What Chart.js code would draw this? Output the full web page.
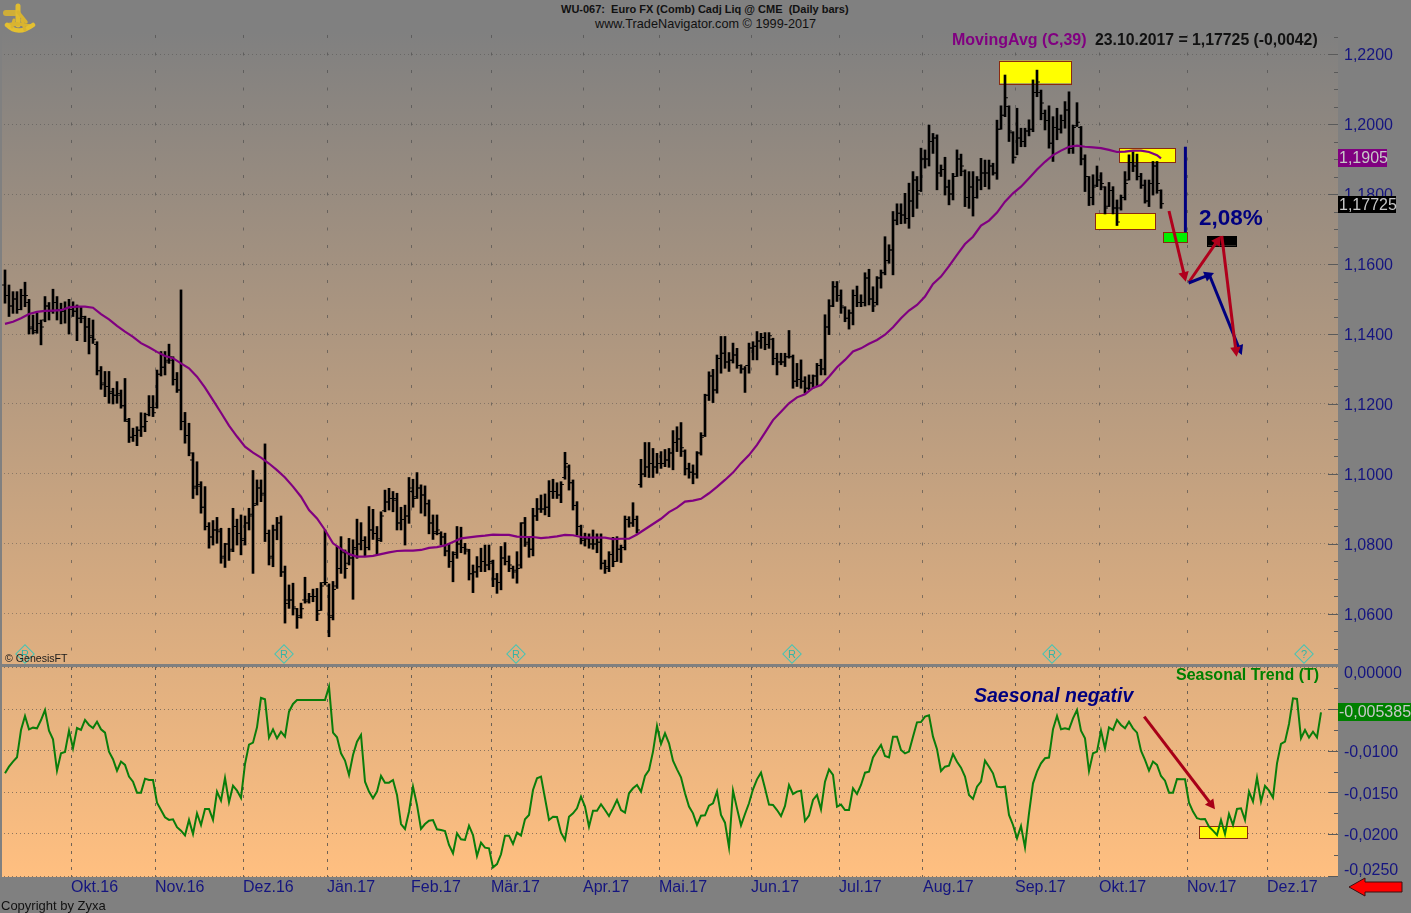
<!DOCTYPE html>
<html><head><meta charset="utf-8">
<script src="https://cdn.jsdelivr.net/npm/chart.js@4"></script>
<style>
html,body{margin:0;padding:0;background:#808080;overflow:hidden}
#stage{position:relative;width:1411px;height:913px;font-family:"Liberation Sans",Arial,sans-serif;overflow:hidden}
#bg{position:absolute;left:0;top:32px;width:1338px;height:845px;background:linear-gradient(180deg,#808080 0%,#ffbf80 100%)}
#edge{position:absolute;left:0;top:32px;width:2px;height:845px;background:#808080;z-index:3}
#split{position:absolute;left:0;top:664px;width:1338px;height:3px;background:#808080;z-index:3}
canvas{position:absolute;left:0;z-index:1}
#cTop{top:32px}#cLow{top:660px}
.t{position:absolute;white-space:nowrap;transform:translateY(-50%);z-index:4;line-height:1}
.box{position:absolute;z-index:4;color:#c8c8c8;font-size:16px;line-height:18px;padding-left:1px;box-sizing:border-box}
.dia{position:absolute;width:12px;height:12px;border:1px solid #45c4b4;transform:translate(-50%,-50%) rotate(45deg);z-index:2;top:654px}
.let{position:absolute;top:654px;transform:translate(-50%,-50%);font-size:11px;color:#35b5a5;z-index:2;line-height:1}
svg{position:absolute;z-index:4}
</style></head><body>
<div id="stage">
<div id="bg"></div>
<canvas id="cTop" width="1411" height="632"></canvas>
<canvas id="cLow" width="1411" height="253"></canvas>
<div id="edge"></div><div id="split"></div>

<svg style="left:0;top:0" width="42" height="38" viewBox="0 0 42 38">
<g fill="none" stroke="#d9b430" stroke-linecap="round">
<path d="M6 13 L15 13" stroke-width="6" stroke="#cfae38"/>
<path d="M18 6 L18 25" stroke-width="5" stroke="#e0bc30"/>
<path d="M18 12 L26 22" stroke-width="3.5"/>
<path d="M17 24 L7 25" stroke-width="4"/>
<path d="M18 24 L32 26" stroke-width="3"/>
<path d="M7 25 Q18 36 33 25" stroke-width="4.5" stroke="#e4c030"/>
<path d="M14 20 L12 27 M22 20 L25 30" stroke-width="3"/>
</g></svg>

<div class="t" style="left:561px;top:9px;font-size:11px;font-weight:bold;color:#111">WU-067:&nbsp; Euro FX (Comb) Cadj Liq @ CME&nbsp; (Daily bars)</div>
<div class="t" style="left:595px;top:24px;font-size:12.7px;color:#111">www.TradeNavigator.com © 1999-2017</div>
<div class="t" style="left:952px;top:40px;font-size:16px;font-weight:bold;color:#800080">MovingAvg (C,39)</div>
<div class="t" style="left:1095px;top:40px;font-size:15.8px;font-weight:bold;color:#111">23.10.2017 = 1,17725 (-0,0042)</div>
<div class="t" style="left:1199px;top:218px;font-size:22.5px;font-weight:bold;color:#00007f">2,08%</div>
<div class="t" style="left:5px;top:658px;font-size:10.6px;color:#1a1a1a">© GenesisFT</div>
<div class="t" style="left:1176px;top:675px;font-size:16px;font-weight:bold;color:#008000">Seasonal Trend (T)</div>
<div class="t" style="left:974px;top:696px;font-size:19.5px;font-weight:bold;font-style:italic;color:#00007f">Saesonal negativ</div>
<div class="t" style="left:1px;top:905px;font-size:13px;color:#111">Copyright by Zyxa</div>

<div class="box" style="left:1338px;top:149px;width:49px;height:18px;background:#800080">1,1905</div>
<div class="box" style="left:1338px;top:196px;width:58px;height:17px;background:#000">1,17725</div>
<div class="box" style="left:1338px;top:703px;width:73px;height:18px;background:#008000">-0,005385</div>

<div class="dia" style="left:25px"></div><div class="let" style="left:25px">R</div>
<div class="dia" style="left:284px"></div><div class="let" style="left:284px">R</div>
<div class="dia" style="left:516px"></div><div class="let" style="left:516px">R</div>
<div class="dia" style="left:792px"></div><div class="let" style="left:792px">R</div>
<div class="dia" style="left:1052px"></div><div class="let" style="left:1052px">R</div>
<div class="dia" style="left:1304px"></div><div class="let" style="left:1304px">?</div>

<svg style="left:1345px;top:874px" width="62" height="26" viewBox="0 0 62 26">
<polygon points="4,13 20,4 20,8 57,8 57,18 20,18 20,22" fill="#ff0000" stroke="#3a1010" stroke-width="1"/></svg>
</div>

<script>
const monthTicks = [16.5,37.5,59.5,80.5,101.5,121.5,144.5,163.5,186.5,208.5,229.5,252.5,273.5,295.5,315.5];
const monthLabels = ["Okt.16","Nov.16","Dez.16","Jän.17","Feb.17","Mär.17","Apr.17","Mai.17","Jun.17","Jul.17","Aug.17","Sep.17","Okt.17","Nov.17","Dez.17"];

const highs = [1.1583,1.1540,1.1521,1.1521,1.1528,1.1548,1.1499,1.1454,1.1459,1.1440,1.1507,1.1490,1.1528,1.1507,1.1488,1.1492,1.1499,1.1492,1.1483,1.1478,1.1451,1.1445,1.1440,1.1378,1.1307,1.1293,1.1293,1.1245,1.1264,1.1240,1.1273,1.1159,1.1131,1.1135,1.1175,1.1174,1.1224,1.1224,1.1297,1.1350,1.1350,1.1371,1.1335,1.1290,1.1526,1.1176,1.1145,1.1061,1.1035,1.0978,1.0964,1.0861,1.0867,1.0876,1.0845,1.0802,1.0845,1.0902,1.0871,1.0883,1.0880,1.0902,1.1010,1.0983,1.0983,1.1086,1.0840,1.0854,1.0876,1.0880,1.0737,1.0683,1.0688,1.0616,1.0631,1.0705,1.0659,1.0671,1.0673,1.0690,1.0840,1.0686,1.0693,1.0793,1.0821,1.0783,1.0816,1.0812,1.0871,1.0861,1.0821,1.0907,1.0899,1.0850,1.0892,1.0954,1.0959,1.0950,1.0945,1.0905,1.0911,1.0990,1.0985,1.1004,1.0969,1.0966,1.0926,1.0883,1.0883,1.0835,1.0831,1.0802,1.0778,1.0850,1.0848,1.0802,1.0785,1.0740,1.0764,1.0788,1.0797,1.0797,1.0754,1.0716,1.0793,1.0804,1.0766,1.0737,1.0778,1.0861,1.0876,1.0821,1.0902,1.0930,1.0940,1.0943,1.0981,1.0985,1.0975,1.0978,1.1062,1.1026,1.0983,1.0921,1.0854,1.0831,1.0829,1.0840,1.0829,1.0829,1.0754,1.0778,1.0819,1.0821,1.0797,1.0880,1.0878,1.0918,1.0880,1.1042,1.1090,1.1090,1.1073,1.1059,1.1064,1.1070,1.1073,1.1124,1.1135,1.1147,1.1069,1.1031,1.1026,1.1064,1.1118,1.1228,1.1292,1.1299,1.1340,1.1393,1.1393,1.1347,1.1374,1.1359,1.1312,1.1307,1.1374,1.1378,1.1407,1.1402,1.1404,1.1404,1.1388,1.1345,1.1345,1.1345,1.1410,1.1340,1.1316,1.1326,1.1278,1.1283,1.1283,1.1316,1.1328,1.1455,1.1498,1.1550,1.1550,1.1526,1.1478,1.1469,1.1526,1.1537,1.1512,1.1575,1.1585,1.1535,1.1564,1.1583,1.1678,1.1655,1.1750,1.1772,1.1772,1.1802,1.1831,1.1864,1.1850,1.1931,1.1926,1.1997,1.1973,1.1969,1.1883,1.1905,1.1840,1.1859,1.1926,1.1914,1.1869,1.1864,1.1864,1.1850,1.1902,1.1897,1.1897,1.1888,1.2011,1.2052,1.2140,1.2052,1.1978,1.2045,1.1988,1.1988,1.2012,1.2126,1.2154,1.2097,1.2040,1.2052,1.2021,1.2045,1.2026,1.2064,1.2092,1.1997,1.2061,1.1993,1.1912,1.1850,1.1855,1.1880,1.1861,1.1821,1.1833,1.1821,1.1783,1.1797,1.1864,1.1912,1.1921,1.1914,1.1859,1.1840,1.1840,1.1893,1.1893,1.1812];
const lows = [1.1488,1.1450,1.1459,1.1459,1.1469,1.1478,1.1400,1.1400,1.1402,1.1369,1.1435,1.1440,1.1459,1.1440,1.1429,1.1431,1.1400,1.1450,1.1381,1.1432,1.1378,1.1343,1.1373,1.1283,1.1242,1.1221,1.1202,1.1200,1.1202,1.1188,1.1150,1.1090,1.1093,1.1081,1.1107,1.1121,1.1166,1.1164,1.1188,1.1280,1.1283,1.1316,1.1254,1.1233,1.1126,1.1088,1.1052,1.0930,1.0940,1.0888,1.0840,1.0788,1.0797,1.0802,1.0745,1.0733,1.0753,1.0778,1.0797,1.0769,1.0797,1.0840,1.0716,1.0911,1.0921,1.0807,1.0740,1.0735,1.0812,1.0707,1.0574,1.0616,1.0597,1.0559,1.0588,1.0631,1.0631,1.0635,1.0581,1.0610,1.0683,1.0535,1.0583,1.0673,1.0716,1.0702,1.0740,1.0642,1.0759,1.0783,1.0766,1.0783,1.0813,1.0771,1.0807,1.0892,1.0897,1.0892,1.0840,1.0840,1.0797,1.0859,1.0905,1.0930,1.0888,1.0880,1.0829,1.0813,1.0826,1.0797,1.0766,1.0733,1.0692,1.0759,1.0775,1.0771,1.0697,1.0661,1.0705,1.0721,1.0721,1.0726,1.0678,1.0659,1.0669,1.0740,1.0721,1.0702,1.0688,1.0731,1.0793,1.0762,1.0766,1.0867,1.0890,1.0883,1.0878,1.0930,1.0930,1.0918,1.0985,1.0954,1.0897,1.0826,1.0800,1.0794,1.0788,1.0785,1.0775,1.0728,1.0716,1.0721,1.0735,1.0750,1.0747,1.0783,1.0848,1.0850,1.0831,1.0962,1.0992,1.0990,1.0990,1.1002,1.1016,1.1021,1.1019,1.1012,1.1064,1.1050,1.0997,1.0988,1.0972,1.0988,1.1054,1.1107,1.1210,1.1204,1.1231,1.1288,1.1302,1.1293,1.1317,1.1302,1.1288,1.1233,1.1288,1.1326,1.1326,1.1359,1.1355,1.1359,1.1312,1.1283,1.1312,1.1307,1.1331,1.1245,1.1250,1.1245,1.1231,1.1240,1.1245,1.1250,1.1283,1.1283,1.1398,1.1478,1.1493,1.1459,1.1435,1.1414,1.1426,1.1478,1.1478,1.1480,1.1483,1.1464,1.1483,1.1531,1.1569,1.1602,1.1569,1.1712,1.1715,1.1716,1.1702,1.1735,1.1759,1.1807,1.1874,1.1880,1.1916,1.1812,1.1850,1.1797,1.1769,1.1783,1.1850,1.1852,1.1764,1.1759,1.1737,1.1788,1.1812,1.1821,1.1814,1.1854,1.1842,1.1985,1.2021,1.1950,1.1888,1.1912,1.1935,1.1935,1.1966,1.1978,1.2078,1.2012,1.1983,1.1931,1.1893,1.1955,1.1974,1.1988,1.1916,1.1916,1.1993,1.1883,1.1807,1.1767,1.1769,1.1821,1.1812,1.1743,1.1764,1.1743,1.1710,1.1754,1.1783,1.1840,1.1864,1.1840,1.1816,1.1774,1.1764,1.1797,1.1802,1.1759];
const closes = [1.1510,1.1480,1.1500,1.1470,1.1510,1.1510,1.1415,1.1405,1.1430,1.1420,1.1480,1.1465,1.1490,1.1470,1.1465,1.1475,1.1470,1.1465,1.1445,1.1450,1.1420,1.1390,1.1385,1.1295,1.1255,1.1250,1.1230,1.1225,1.1230,1.1195,1.1155,1.1105,1.1110,1.1125,1.1135,1.1150,1.1190,1.1175,1.1285,1.1305,1.1320,1.1335,1.1270,1.1240,1.1150,1.1110,1.1060,1.0960,1.0970,1.0905,1.0850,1.0820,1.0840,1.0840,1.0760,1.0800,1.0780,1.0850,1.0830,1.0810,1.0860,1.0880,1.0910,1.0960,1.0940,1.0830,1.0760,1.0840,1.0860,1.0720,1.0630,1.0640,1.0620,1.0590,1.0615,1.0635,1.0650,1.0650,1.0600,1.0680,1.0690,1.0590,1.0670,1.0730,1.0780,1.0730,1.0760,1.0790,1.0800,1.0810,1.0790,1.0840,1.0830,1.0810,1.0880,1.0920,1.0930,1.0930,1.0860,1.0870,1.0880,1.0960,1.0930,1.0960,1.0940,1.0915,1.0860,1.0830,1.0840,1.0820,1.0780,1.0750,1.0770,1.0800,1.0790,1.0785,1.0715,1.0720,1.0735,1.0750,1.0740,1.0750,1.0700,1.0690,1.0760,1.0750,1.0740,1.0720,1.0730,1.0860,1.0800,1.0785,1.0880,1.0900,1.0900,1.0905,1.0950,1.0950,1.0940,1.0970,1.1030,1.0975,1.0910,1.0850,1.0810,1.0815,1.0800,1.0800,1.0805,1.0745,1.0730,1.0770,1.0750,1.0785,1.0790,1.0870,1.0860,1.0870,1.0840,1.1000,1.1020,1.1030,1.1020,1.1030,1.1030,1.1040,1.1060,1.1090,1.1100,1.1075,1.1015,1.1005,1.1000,1.1060,1.1105,1.1225,1.1280,1.1240,1.1330,1.1345,1.1320,1.1325,1.1340,1.1310,1.1300,1.1310,1.1360,1.1365,1.1380,1.1390,1.1370,1.1395,1.1330,1.1320,1.1320,1.1335,1.1335,1.1265,1.1270,1.1265,1.1245,1.1260,1.1280,1.1310,1.1300,1.1420,1.1480,1.1535,1.1510,1.1480,1.1445,1.1460,1.1510,1.1490,1.1490,1.1560,1.1500,1.1480,1.1560,1.1575,1.1610,1.1640,1.1725,1.1745,1.1740,1.1730,1.1780,1.1840,1.1800,1.1900,1.1900,1.1950,1.1960,1.1860,1.1870,1.1820,1.1800,1.1850,1.1900,1.1880,1.1790,1.1820,1.1790,1.1840,1.1860,1.1860,1.1880,1.1860,1.1985,1.2025,1.2075,1.1980,1.1905,1.1960,1.1950,1.1980,1.1985,1.2090,1.2120,1.2060,1.2010,1.1945,1.1990,1.1985,1.2010,1.2040,1.1930,1.1990,1.2005,1.1900,1.1850,1.1790,1.1820,1.1840,1.1830,1.1760,1.1810,1.1760,1.1720,1.1790,1.1830,1.1890,1.1880,1.1850,1.1825,1.1780,1.1830,1.1880,1.1830,1.17725];
const opens = [1.1540,1.1510,1.1480,1.1500,1.1470,1.1510,1.1490,1.1420,1.1410,1.1430,1.1440,1.1480,1.1465,1.1490,1.1470,1.1465,1.1475,1.1470,1.1465,1.1445,1.1445,1.1420,1.1395,1.1370,1.1295,1.1260,1.1250,1.1235,1.1225,1.1225,1.1195,1.1150,1.1105,1.1110,1.1125,1.1135,1.1170,1.1190,1.1190,1.1285,1.1305,1.1325,1.1325,1.1270,1.1240,1.1150,1.1110,1.1040,1.0965,1.0965,1.0905,1.0850,1.0820,1.0840,1.0835,1.0765,1.0800,1.0785,1.0850,1.0830,1.0815,1.0860,1.0885,1.0915,1.0960,1.0945,1.0830,1.0765,1.0840,1.0860,1.0720,1.0640,1.0640,1.0615,1.0595,1.0640,1.0640,1.0650,1.0650,1.0610,1.0690,1.0680,1.0595,1.0680,1.0730,1.0775,1.0745,1.0760,1.0785,1.0800,1.0810,1.0790,1.0840,1.0830,1.0815,1.0895,1.0920,1.0930,1.0925,1.0860,1.0870,1.0880,1.0950,1.0935,1.0960,1.0940,1.0915,1.0860,1.0835,1.0830,1.0820,1.0780,1.0750,1.0775,1.0800,1.0790,1.0780,1.0715,1.0720,1.0735,1.0750,1.0740,1.0745,1.0700,1.0690,1.0760,1.0750,1.0730,1.0725,1.0740,1.0860,1.0805,1.0785,1.0880,1.0900,1.0900,1.0905,1.0950,1.0950,1.0940,1.0990,1.1020,1.0975,1.0910,1.0850,1.0815,1.0815,1.0800,1.0800,1.0805,1.0745,1.0735,1.0770,1.0750,1.0785,1.0790,1.0870,1.0860,1.0870,1.0970,1.1000,1.1020,1.1030,1.1020,1.1030,1.1030,1.1040,1.1060,1.1090,1.1100,1.1065,1.1015,1.1005,1.1000,1.1060,1.1110,1.1225,1.1280,1.1240,1.1330,1.1345,1.1320,1.1325,1.1340,1.1310,1.1300,1.1310,1.1360,1.1365,1.1380,1.1390,1.1370,1.1385,1.1330,1.1320,1.1320,1.1335,1.1335,1.1265,1.1270,1.1265,1.1245,1.1260,1.1280,1.1310,1.1300,1.1420,1.1480,1.1535,1.1510,1.1475,1.1445,1.1460,1.1510,1.1490,1.1490,1.1560,1.1500,1.1490,1.1560,1.1575,1.1610,1.1640,1.1725,1.1745,1.1740,1.1730,1.1780,1.1840,1.1810,1.1900,1.1900,1.1950,1.1960,1.1860,1.1870,1.1820,1.1800,1.1850,1.1900,1.1865,1.1790,1.1820,1.1790,1.1840,1.1860,1.1860,1.1880,1.1860,1.1985,1.2025,1.2050,1.1975,1.1905,1.1960,1.1950,1.1980,1.1985,1.2090,1.2090,1.2030,1.2010,1.1945,1.1990,1.1985,1.2010,1.2040,1.1930,1.1995,1.1990,1.1900,1.1850,1.1790,1.1825,1.1840,1.1820,1.1765,1.1810,1.1760,1.1760,1.1790,1.1840,1.1890,1.1880,1.1850,1.1825,1.1780,1.1830,1.1880,1.1810];
// Moving average read every second bar; the last reading sits on the final bar.
const movingAvg = [1.1429,1.1435,1.1445,1.1457,1.1463,1.1466,1.1467,1.1468,1.1476,1.1478,1.1478,1.1475,1.1457,1.1442,1.1423,1.1407,1.1392,1.1374,1.1362,1.1349,1.1337,1.1331,1.1316,1.1302,1.1278,1.1247,1.1211,1.1175,1.1138,1.1107,1.1078,1.1061,1.1047,1.1030,1.1011,1.0990,1.0964,1.0935,1.0897,1.0873,1.0840,1.0802,1.0786,1.0771,1.0764,1.0764,1.0766,1.0771,1.0776,1.0780,1.0781,1.0781,1.0783,1.0789,1.0791,1.0796,1.0806,1.0816,1.0819,1.0822,1.0824,1.0827,1.0826,1.0826,1.0821,1.0820,1.0820,1.0817,1.0819,1.0822,1.0826,1.0825,1.0820,1.0818,1.0818,1.0818,1.0814,1.0815,1.0815,1.0827,1.0842,1.0857,1.0872,1.0891,1.0904,1.0921,1.0924,1.0929,1.0945,1.0963,1.0983,1.1004,1.1031,1.1054,1.1083,1.1118,1.1154,1.1178,1.1202,1.1219,1.1228,1.1246,1.1254,1.1278,1.1305,1.1326,1.1350,1.1359,1.1372,1.1383,1.1398,1.1419,1.1445,1.1467,1.1483,1.1507,1.1543,1.1564,1.1594,1.1626,1.1657,1.1678,1.1710,1.1724,1.1747,1.1778,1.1802,1.1821,1.1845,1.1870,1.1892,1.1911,1.1924,1.1935,1.1938,1.1935,1.1933,1.1931,1.1926,1.1920,1.1921,1.1924,1.1924,1.1920,1.1911,1.1902];
const seasonal = [-0.01271,-0.01191,-0.01130,-0.01078,-0.00750,-0.00582,-0.00742,-0.00722,-0.00730,-0.00630,-0.00510,-0.00758,-0.00862,-0.01239,-0.01030,-0.01014,-0.00758,-0.00970,-0.00726,-0.00750,-0.00630,-0.00690,-0.00726,-0.00650,-0.00742,-0.00782,-0.01010,-0.01102,-0.01239,-0.01130,-0.01170,-0.01310,-0.01371,-0.01503,-0.01503,-0.01335,-0.01351,-0.01351,-0.01623,-0.01711,-0.01799,-0.01831,-0.01823,-0.01919,-0.01960,-0.02016,-0.01831,-0.02000,-0.01751,-0.01892,-0.01699,-0.01699,-0.01831,-0.01491,-0.01599,-0.01327,-0.01619,-0.01419,-0.01479,-0.01567,-0.01158,-0.00926,-0.00902,-0.00718,-0.00365,-0.00381,-0.00842,-0.00742,-0.00850,-0.00770,-0.00830,-0.00530,-0.00437,-0.00389,-0.00389,-0.00389,-0.00389,-0.00389,-0.00389,-0.00389,-0.00389,-0.00229,-0.00782,-0.00838,-0.01030,-0.01118,-0.01290,-0.01050,-0.00890,-0.00810,-0.01371,-0.01491,-0.01571,-0.01491,-0.01302,-0.01383,-0.01383,-0.01351,-0.01531,-0.01880,-0.01940,-0.01732,-0.01431,-0.01651,-0.01940,-0.01880,-0.01840,-0.01832,-0.01944,-0.01952,-0.01964,-0.02132,-0.02232,-0.01992,-0.02064,-0.02072,-0.01900,-0.02012,-0.02264,-0.02104,-0.02164,-0.02172,-0.02401,-0.02361,-0.02244,-0.02020,-0.02020,-0.02120,-0.01984,-0.02020,-0.01824,-0.01772,-0.01471,-0.01331,-0.01311,-0.01571,-0.01832,-0.01792,-0.01796,-0.01984,-0.02072,-0.01792,-0.01752,-0.01692,-0.01551,-0.01671,-0.01912,-0.01720,-0.01720,-0.01643,-0.01712,-0.01784,-0.01692,-0.01591,-0.01712,-0.01744,-0.01511,-0.01451,-0.01411,-0.01491,-0.01303,-0.01231,-0.01010,-0.00702,-0.00918,-0.00790,-0.00910,-0.01119,-0.01223,-0.01319,-0.01511,-0.01671,-0.01752,-0.01892,-0.01780,-0.01776,-0.01659,-0.01631,-0.01491,-0.01772,-0.01864,-0.02160,-0.01479,-0.01692,-0.01896,-0.01760,-0.01631,-0.01463,-0.01343,-0.01263,-0.01451,-0.01647,-0.01651,-0.01712,-0.01784,-0.01663,-0.01411,-0.01519,-0.01491,-0.01479,-0.01844,-0.01780,-0.01591,-0.01531,-0.01704,-0.01371,-0.01223,-0.01291,-0.01671,-0.01647,-0.01712,-0.01712,-0.01451,-0.01519,-0.01411,-0.01263,-0.01251,-0.01079,-0.01002,-0.00930,-0.01063,-0.01079,-0.00830,-0.00830,-0.00990,-0.01031,-0.01010,-0.00830,-0.00658,-0.00654,-0.00590,-0.00574,-0.00830,-0.00982,-0.01243,-0.01191,-0.01179,-0.01039,-0.01131,-0.01203,-0.01311,-0.01531,-0.01579,-0.01431,-0.01371,-0.01119,-0.01191,-0.01271,-0.01431,-0.01439,-0.01431,-0.01771,-0.01892,-0.02052,-0.01904,-0.02160,-0.01751,-0.01391,-0.01251,-0.01151,-0.01090,-0.01082,-0.00742,-0.00582,-0.00742,-0.00730,-0.00742,-0.00610,-0.00510,-0.00758,-0.00850,-0.01243,-0.01030,-0.01010,-0.00758,-0.00970,-0.00718,-0.00750,-0.00630,-0.00690,-0.00730,-0.00650,-0.00730,-0.00782,-0.00998,-0.01110,-0.01239,-0.01130,-0.01170,-0.01303,-0.01359,-0.01503,-0.01503,-0.01339,-0.01343,-0.01343,-0.01623,-0.01731,-0.01811,-0.01824,-0.01820,-0.01912,-0.01960,-0.02012,-0.01832,-0.02000,-0.01760,-0.01892,-0.01699,-0.01691,-0.01832,-0.01491,-0.01611,-0.01323,-0.01611,-0.01423,-0.01479,-0.01563,-0.01151,-0.00918,-0.00890,-0.00678,-0.00369,-0.00377,-0.00850,-0.00750,-0.00842,-0.00770,-0.00838,-0.00538];

const priceTicks = [1.05,1.055,1.06,1.065,1.07,1.075,1.08,1.085,1.09,1.095,1.10,1.105,1.11,1.115,1.12,1.125,1.13,1.135,1.14,1.145,1.15,1.155,1.16,1.165,1.17,1.175,1.18,1.185,1.19,1.195,1.20,1.205,1.21,1.215,1.22,1.225];
const seasonalTickValues = [0,-0.00053,-0.0025,-0.005,-0.0075,-0.01,-0.0125,-0.015,-0.0175,-0.02,-0.0225,-0.02421,-0.025,-0.0251];
const seasonalTickLabels = ["","0,00000","","","","-0,0100","","-0,0150","","-0,0200","","-0,0250","",""];
const seasonalGridLines = [0,-0.005,-0.01,-0.015,-0.02,-0.0251];

// Drawn annotations in data units: [fromBar, toBar, fromValue, toValue, fill]
const priceBoxes = [[248.6,266.7,1.21809,1.21163,"#ffff00"],[278.6,292.7,1.19306,1.18894,"#ffff00"],[272.6,287.7,1.17449,1.16991,"#ffff00"],[289.6,295.7,1.16906,1.16620,"#00f000"],[300.5,307.75,1.16800,1.16523,"#000000"]];
const priceArrows = [[291,1.17514,295.2,1.15494,"#b0001c",true],[296,1.15486,304,1.16809,"#b0001c",true],[295.1,1.19351,295.1,1.16906,"#00007f",false],[295.9,1.15457,302.25,1.15743,"#00007f",true],[301.1,1.15686,309.2,1.13400,"#00007f",true],[304.2,1.16800,307.9,1.13351,"#b0001c",true]];
const seasonalBoxes = [[298.6,310.7,-0.01907,-0.02056,"#ffff00"]];
const seasonalArrows = [[284.8,-0.0059,302.5,-0.01703,"#a80018",true]];

Chart.defaults.font.family = '"Liberation Sans",Arial,sans-serif';
const INK = "#15157f";

function annotate(boxes, arrows){
  return {
    id:"annotate",
    beforeDatasetsDraw(chart){
      const c=chart.ctx,X=chart.scales.x,Y=chart.scales.y;
      boxes.forEach(b=>{
        const x1=X.getPixelForValue(b[0]),x2=X.getPixelForValue(b[1]),y1=Y.getPixelForValue(b[2]),y2=Y.getPixelForValue(b[3]);
        c.fillStyle=b[4];c.fillRect(x1,y1,x2-x1,y2-y1);
        c.strokeStyle=b[4]==="#000000"?"#000":"#8a2a10";c.lineWidth=1;
        c.strokeRect(Math.round(x1)+.5,Math.round(y1)+.5,Math.round(x2-x1),Math.round(y2-y1));
      });
    },
    afterDatasetsDraw(chart){
      const c=chart.ctx,X=chart.scales.x,Y=chart.scales.y;
      arrows.forEach(a=>{
        const x1=X.getPixelForValue(a[0]),y1=Y.getPixelForValue(a[1]),x2=X.getPixelForValue(a[2]),y2=Y.getPixelForValue(a[3]);
        const ang=Math.atan2(y2-y1,x2-x1),L=11,W=0.5;
        c.strokeStyle=a[4];c.fillStyle=a[4];c.lineWidth=3;c.lineCap="butt";
        c.beginPath();c.moveTo(x1,y1);
        c.lineTo(a[5]?x2-Math.cos(ang)*6:x2,a[5]?y2-Math.sin(ang)*6:y2);c.stroke();
        if(a[5]){
          c.beginPath();c.moveTo(x2,y2);
          c.lineTo(x2-L*Math.cos(ang-W),y2-L*Math.sin(ang-W));
          c.lineTo(x2-L*Math.cos(ang+W),y2-L*Math.sin(ang+W));
          c.closePath();c.fill();
        }
      });
    }
  };
}
function edgeTicks(lengthOf){
  return {
    id:"edgeTicks",
    afterDraw(chart){
      const c=chart.ctx,Y=chart.scales.y,r=chart.chartArea.right;
      c.save();c.strokeStyle="#5a5a5a";c.lineWidth=1;
      Y.ticks.forEach(t=>{
        const L=lengthOf(t.value);if(!L)return;
        const y=Math.round(Y.getPixelForValue(t.value))+.5;
        c.beginPath();c.moveTo(r-L,y);c.lineTo(r,y);c.stroke();
      });
      c.restore();
    }
  };
}
const isMajorPrice=v=>Math.round(v*1000)%20===0;
const noEdgePadding=s=>{s.paddingTop=0;s.paddingBottom=0;s.paddingLeft=0;s.paddingRight=0;
  s._margins={left:0,right:0,top:0,bottom:0};};
const xBase={type:"linear",min:-1.25,max:333.25,offset:false,
  afterBuildTicks:s=>{s.ticks=monthTicks.map(v=>({value:v}));}};

new Chart(document.getElementById("cTop"),{
  type:"bar",
  data:{datasets:[
    {type:"line",label:"MovingAvg (C,39)",data:movingAvg.map((v,k)=>({x:Math.min(k*2,289),y:v})),borderColor:"#800080",borderWidth:2.2,pointRadius:0,tension:0,order:1},
    {type:"scatter",label:"Open",data:opens.map((v,k)=>({x:k-0.4,y:v})),pointStyle:"line",pointRadius:1.3,borderColor:"#000",pointBorderWidth:1,showLine:false,order:2},
    {type:"scatter",label:"Close",data:closes.map((v,k)=>({x:k+0.4,y:v})),pointStyle:"line",pointRadius:1.3,borderColor:"#000",pointBorderWidth:1,showLine:false,order:2},
    {type:"bar",label:"Euro FX",data:highs.map((h,k)=>({x:k,y:[lows[k],h]})),backgroundColor:"#000",barThickness:2,grouped:false,order:3}
  ]},
  options:{responsive:false,animation:false,devicePixelRatio:1,layout:{padding:0,autoPadding:false},
    plugins:{legend:{display:false},tooltip:{enabled:false}},
    scales:{
      x:{...xBase,afterFit:s=>{s.height=0;noEdgePadding(s);},
        ticks:{display:false},
        grid:{offset:false,drawTicks:false,color:"rgba(70,70,70,.6)",lineWidth:1},
        border:{display:false,dash:[3,14.5],dashOffset:14.5}},
      y:{position:"right",min:1.04571,max:1.22629,
        afterBuildTicks:s=>{s.ticks=priceTicks.map(v=>({value:v}));},
        afterFit:s=>{s.width=73;noEdgePadding(s);},
        ticks:{autoSkip:false,padding:6,labelOffset:2,color:INK,font:{size:16},
          callback:v=>isMajorPrice(v)?v.toFixed(4).replace(".",","):""},
        grid:{drawTicks:false,lineWidth:1,color:c=>isMajorPrice(c.tick.value)?"rgba(70,70,70,.45)":"rgba(0,0,0,0)"},
        border:{display:false,dash:[1,3]}}
    }},
  plugins:[annotate(priceBoxes,priceArrows),edgeTicks(v=>isMajorPrice(v)?10:4)]
});

new Chart(document.getElementById("cLow"),{
  type:"line",
  data:{datasets:[
    {label:"Seasonal Trend (T)",data:seasonal.map((v,k)=>({x:k,y:v})),borderColor:"#0a7d0a",borderWidth:2,pointRadius:0,tension:0}
  ]},
  options:{responsive:false,animation:false,devicePixelRatio:1,layout:{padding:{top:7,left:0,right:0,bottom:0},autoPadding:false},
    plugins:{legend:{display:false},tooltip:{enabled:false}},
    scales:{
      x:{...xBase,afterFit:s=>{s.height=36;noEdgePadding(s);},
        ticks:{autoSkip:false,maxRotation:0,minRotation:0,align:"start",padding:1,color:INK,font:{size:16},
          callback:(v,i)=>monthLabels[i]},
        grid:{drawTicks:false,color:"rgba(70,70,70,.75)",lineWidth:1},
        border:{display:false,dash:[3,5]}},
      y:{position:"right",min:-0.02517,max:0.00007,
        afterBuildTicks:s=>{s.ticks=seasonalTickValues.map(v=>({value:v}));},
        afterFit:s=>{s.width=73;noEdgePadding(s);},
        ticks:{autoSkip:false,padding:6,labelOffset:2,color:INK,font:{size:16},
          callback:(v,i)=>seasonalTickLabels[i]},
        grid:{drawTicks:false,lineWidth:1,color:c=>seasonalGridLines.includes(c.tick.value)?"rgba(70,70,70,.6)":"rgba(0,0,0,0)"},
        border:{display:false,dash:[1,3]}}
    }},
  plugins:[annotate(seasonalBoxes,seasonalArrows),edgeTicks(v=>{
    if(v===0||v===-0.00053||v===-0.02421||v===-0.0251)return 0;
    return Math.round(v*100000)%500===0?10:4;})]
});
</script>
</body></html>
